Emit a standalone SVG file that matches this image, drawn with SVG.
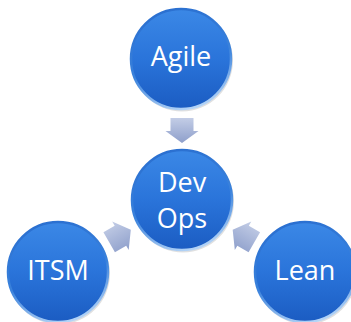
<svg xmlns="http://www.w3.org/2000/svg" width="351" height="322" viewBox="0 0 351 322">
  <defs>
    <linearGradient id="ball" x1="0" y1="0" x2="0" y2="1">
      <stop offset="0" stop-color="#3b88e6"/>
      <stop offset="0.5" stop-color="#2a74da"/>
      <stop offset="1" stop-color="#1b5cc2"/>
    </linearGradient>
    <linearGradient id="rim" x1="0.3" y1="0" x2="0.6" y2="1">
      <stop offset="0" stop-color="#2a6fd0"/>
      <stop offset="0.55" stop-color="#3a82dc"/>
      <stop offset="1" stop-color="#b4d4f7"/>
    </linearGradient>
    <linearGradient id="arrD" x1="0" y1="0" x2="1" y2="0">
      <stop offset="0" stop-color="#c3cde6"/>
      <stop offset="1" stop-color="#8e9fcb"/>
    </linearGradient>
    <linearGradient id="arrL" x1="0" y1="0" x2="0" y2="1">
      <stop offset="0" stop-color="#c3cde6"/>
      <stop offset="1" stop-color="#8e9fcb"/>
    </linearGradient>
    <linearGradient id="arrR" x1="0" y1="1" x2="0" y2="0">
      <stop offset="0" stop-color="#c3cde6"/>
      <stop offset="1" stop-color="#8e9fcb"/>
    </linearGradient>
  </defs>
  <style>
    .node circle.b { fill: url(#ball); stroke: url(#rim); stroke-width: 2.5; }
    .node circle.s { fill: #000; opacity: 0.12; }
    .node text { font-family: "Open Sans", "Noto Sans", sans-serif; font-size: 27px; fill: #ffffff; text-anchor: middle; }
  </style>
  <rect width="351" height="322" fill="#ffffff"/>
  <g id="connectors">
    <path fill="url(#arrD)" transform="translate(182,130.5) rotate(90)" d="M-12.5,-11.5 H0.5 V-16.5 L12.5,0 L0.5,16.5 V11.5 H-12.5 Z"/>
    <path fill="url(#arrL)" transform="translate(120,236) rotate(-30)" d="M-12.5,-11.5 H0.5 V-16.5 L12.5,0 L0.5,16.5 V11.5 H-12.5 Z"/>
    <path fill="url(#arrR)" transform="translate(243.5,236) rotate(-150)" d="M-12.5,-11.5 H0.5 V-16.5 L12.5,0 L0.5,16.5 V11.5 H-12.5 Z"/>
  </g>
  <g id="agile" class="node">
    <circle class="s" cx="182" cy="60.5" r="51"/>
    <circle class="b" cx="181" cy="59" r="50"/>
    <text x="181" y="66">Agile</text>
  </g>
  <g id="devops" class="node">
    <circle class="s" cx="183" cy="201.5" r="51"/>
    <circle class="b" cx="182" cy="200" r="50"/>
    <text x="182" y="192">Dev</text>
    <text x="182" y="228">Ops</text>
  </g>
  <g id="itsm" class="node">
    <circle class="s" cx="59" cy="273.5" r="51"/>
    <circle class="b" cx="58" cy="272" r="50"/>
    <text x="58" y="280">ITSM</text>
  </g>
  <g id="lean" class="node">
    <circle class="s" cx="306" cy="273.5" r="51"/>
    <circle class="b" cx="305" cy="272" r="50"/>
    <text x="305" y="280">Lean</text>
  </g>
</svg>
